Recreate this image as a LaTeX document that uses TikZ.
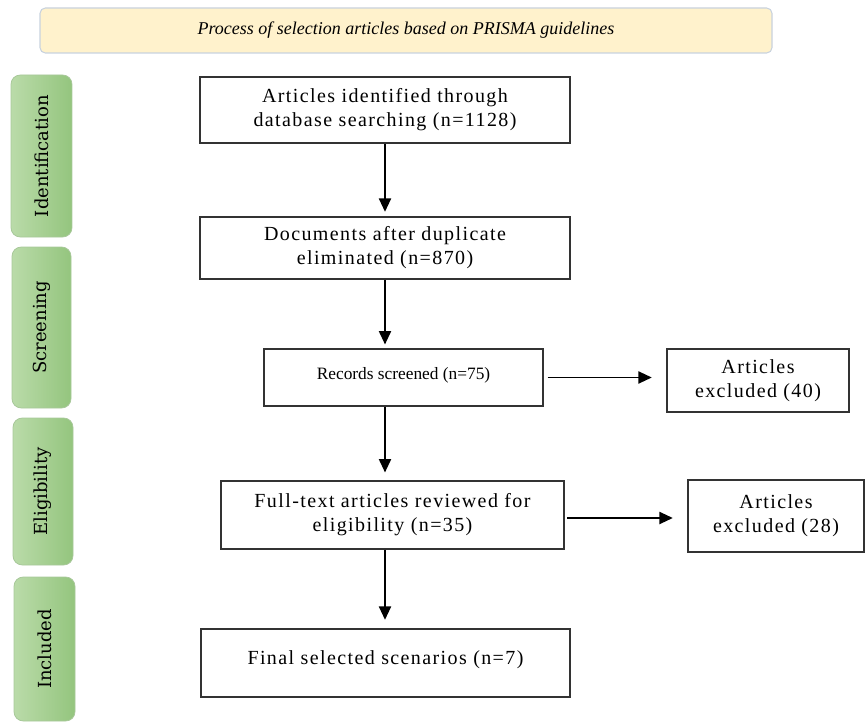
\documentclass[tikz,border=0pt]{standalone}
\usepackage{fontspec}
\setmainfont{Liberation Serif}
\newfontfamily\boxfont[LetterSpace=7]{Liberation Serif}
\newfontfamily\sidefont{DejaVu Serif}
\usetikzlibrary{arrows.meta,calc}
\definecolor{titlefill}{HTML}{FFF2CC}
\definecolor{titledraw}{HTML}{C8D2DE}
\definecolor{greenL}{HTML}{BADBA9}
\definecolor{greenR}{HTML}{94C57E}
\definecolor{greenD}{HTML}{A8C89A}
\begin{document}
\begin{tikzpicture}[x=0.75pt,y=-0.75pt,
  titlebox/.style={draw=titledraw, fill=titlefill, rounded corners=4pt, line width=0.8pt, inner sep=0pt,
    font=\itshape\fontsize{13.5}{16}\selectfont},
  sidebox/.style={draw=greenD, left color=greenL, right color=greenR, rounded corners=7pt, line width=0.6pt,
    inner sep=0pt, font=\sidefont\fontsize{13.5}{16}\selectfont},
  stepbox/.style={draw=black!80, fill=white, line width=0.8pt, inner sep=0pt, align=center,
    font=\boxfont\fontsize{15}{18}\selectfont},
  arr/.style={line width=1.4pt, -{Triangle[width=9pt,length=10pt]}}
]
\useasboundingbox (0,0) rectangle (865,724);

% title
\node[titlebox, minimum width=732*0.75pt, minimum height=45*0.75pt] (title) at (406,30.5)
  {Process of selection articles based on PRISMA guidelines};

% side labels
\node[sidebox, minimum width=61*0.75pt, minimum height=162*0.75pt] (sid) at (41.5,156)
  {\rotatebox{90}{Identification}};
\node[sidebox, minimum width=59*0.75pt, minimum height=161*0.75pt] (sscr) at (41.5,327.5)
  {\rotatebox{90}{Screening}};
\node[sidebox, minimum width=60*0.75pt, minimum height=147*0.75pt] (selig) at (43,491.5)
  {\rotatebox{90}{Eligibility}};
\node[sidebox, minimum width=61*0.75pt, minimum height=144*0.75pt] (sinc) at (44.5,649)
  {\rotatebox{90}{Included}};

% main boxes
\node[stepbox, minimum width=370*0.75pt, minimum height=66*0.75pt] (b1) at (385,110)
  {Articles identified through\\database searching (n=1128)};
\node[stepbox, minimum width=370*0.75pt, minimum height=62*0.75pt] (b2) at (385,248)
  {Documents after duplicate\\eliminated (n=870)};
\node[stepbox, minimum width=279*0.75pt, minimum height=57*0.75pt,
  font=\fontsize{13}{16}\selectfont] (b3) at (403.5,377.5)
  {\raisebox{6pt}{Records screened (n=75)}};
\node[stepbox, minimum width=343*0.75pt, minimum height=68*0.75pt] (b4) at (392.5,515)
  {Full-text articles reviewed for\\eligibility (n=35)};
\node[stepbox, minimum width=369*0.75pt, minimum height=68*0.75pt] (b5) at (385.5,663)
  {\raisebox{7.5pt}{Final selected scenarios (n=7)}};

% excluded boxes
\node[stepbox, minimum width=182*0.75pt, minimum height=63*0.75pt] (e1) at (758,380.5)
  {Articles\\excluded (40)};
\node[stepbox, minimum width=176*0.75pt, minimum height=72*0.75pt] (e2) at (776,516)
  {Articles\\excluded (28)};

% arrows
\draw[arr, shorten >=3.5pt] (b1.south) -- (b2.north);
\draw[arr, shorten >=3pt] (b2.south) -- (b2.south |- b3.north);
\draw[arr, shorten >=6pt] (b3.south -| b2.south) -- (b2.south |- b4.north);
\draw[arr, shorten >=6.5pt] (b4.south -| b2.south) -- (b2.south |- b5.north);
\draw[arr, shorten <=3pt, shorten >=11pt] (b3.east) -- (b3.east -| e1.west);
\draw[arr, shorten <=2pt, shorten >=11pt] ($(b4.east)+(0,3)$) -- ($(b4.east -| e2.west)+(0,3)$);
\end{tikzpicture}
\end{document}
